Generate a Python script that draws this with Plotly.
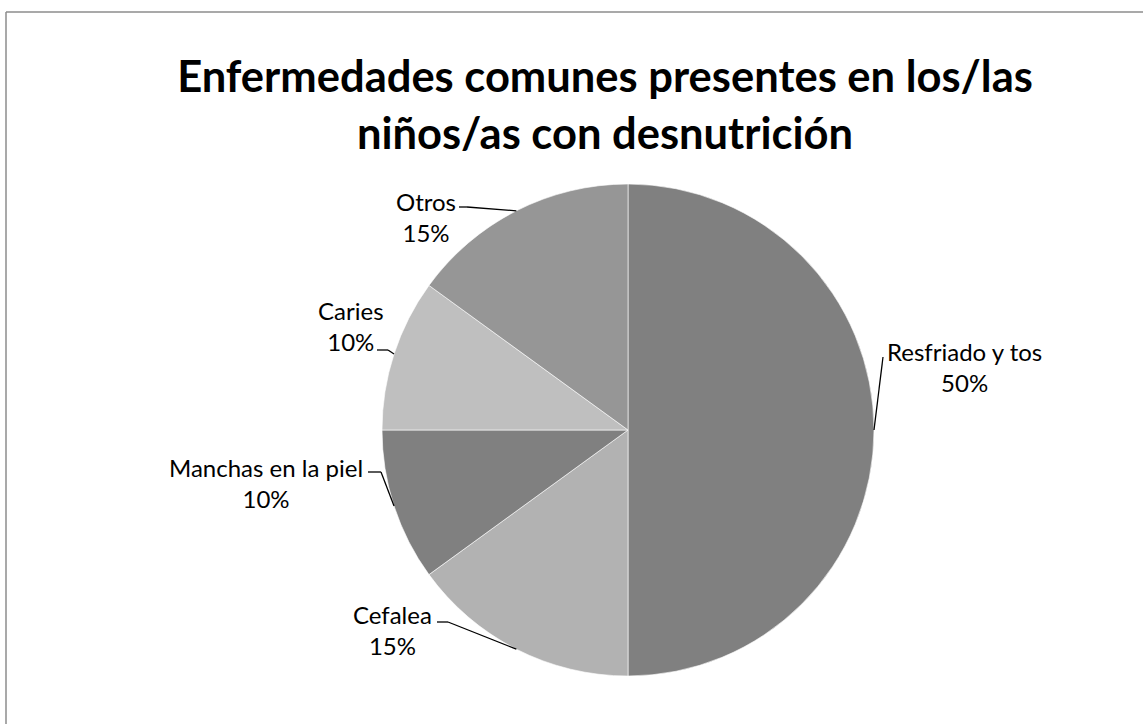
import math
import plotly.graph_objects as go

# ---- data ----
categories = ["Resfriado y tos", "Cefalea", "Manchas en la piel", "Caries", "Otros"]
percent = [50, 15, 10, 10, 15]
title_lines = ["Enfermedades comunes presentes en los/las", "niños/as con desnutrición"]

# ---- styling / layout ----
colors = ["#808080", "#b2b2b2", "#808080", "#bfbfbf", "#969696"]
W, H = 1143, 724
cx, cy, R = 628, 430, 246
FONT = "Lato"

# label centres (px) and label-side leader points (px)
label_pos = {
    "Resfriado y tos": (964, 367),
    "Cefalea": (392, 630),
    "Manchas en la piel": (266, 483),
    "Caries": (351, 326),
    "Otros": (426, 217),
}
leader_start = {
    "Resfriado y tos": [(883, 357)],
    "Cefalea": [(437, 622), (448, 622)],
    "Manchas en la piel": [(368, 472), (381, 472)],
    "Caries": [(377, 350), (388, 350)],
    "Otros": [(459, 207), (467, 207)],
}


def px(x):
    return x / W


def py(y):
    return 1 - y / H


fig = go.Figure(
    go.Pie(
        labels=categories,
        values=percent,
        sort=False,
        direction="clockwise",
        rotation=0,
        marker=dict(colors=colors, line=dict(color="#ffffff", width=0.6)),
        textinfo="none",
        hoverinfo="label+percent",
        showlegend=False,
        domain=dict(x=[px(cx - R), px(cx + R)], y=[py(cy + R), py(cy - R)]),
    )
)

total = sum(percent)
shapes = []
annotations = []
cum = 0
for cat, v in zip(categories, percent):
    theta = 2 * math.pi * (cum + v / 2) / total
    cum += v
    ex = cx + R * math.sin(theta)
    ey = cy - R * math.cos(theta)
    pts = leader_start[cat] + [(ex, ey)]
    for (x0, y0), (x1, y1) in zip(pts[:-1], pts[1:]):
        shapes.append(dict(type="line", xref="paper", yref="paper",
                           x0=px(x0), y0=py(y0), x1=px(x1), y1=py(y1),
                           line=dict(color="#000000", width=1.3)))
    lx, ly = label_pos[cat]
    annotations.append(dict(
        xref="paper", yref="paper", x=px(lx), y=py(ly),
        xanchor="center", yanchor="middle", showarrow=False,
        text=f"{cat}<br>{round(100 * v / total)}%",
        font=dict(family=FONT, size=24, color="#000000"),
        align="center",
    ))

# chart-area border (only top and left edges visible in reference)
border = dict(color="#8c8c8c", width=1.5)
shapes.append(dict(type="line", xref="paper", yref="paper",
                   x0=px(6), y0=py(12), x1=1.0, y1=py(12), line=border))
shapes.append(dict(type="line", xref="paper", yref="paper",
                   x0=px(6), y0=py(12), x1=px(6), y1=0.0, line=border))

fig.update_layout(
    width=W, height=H,
    margin=dict(l=0, r=0, t=0, b=0),
    paper_bgcolor="#ffffff",
    plot_bgcolor="#ffffff",
    title=dict(
        text="<b>" + "<br>".join(title_lines) + "</b>",
        x=px(605), xanchor="center",
        y=py(92), yanchor="middle", yref="container",
        font=dict(family=FONT, size=43.5, color="#000000"),
    ),
    shapes=shapes,
    annotations=annotations,
)

fig.write_html("out.html", config={"displayModeBar": False},
               post_script="document.body.style.margin='0';")
